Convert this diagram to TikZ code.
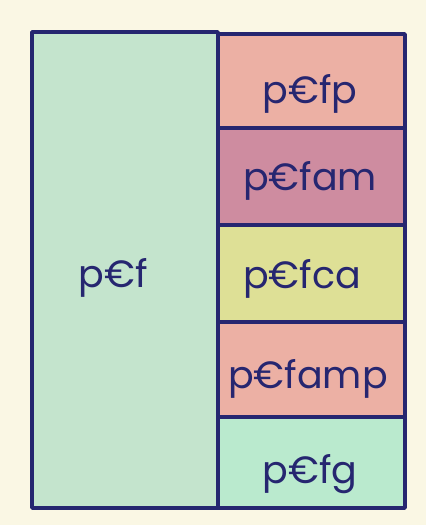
\documentclass[tikz,border=0pt]{standalone}
\usepackage{fontspec}
\setmainfont{Poppins}
\definecolor{paper}{RGB}{250,247,228}
\definecolor{ink}{RGB}{38,38,112}
\definecolor{mint}{RGB}{196,228,205}
\definecolor{salmon}{RGB}{236,176,164}
\definecolor{mauve}{RGB}{206,140,160}
\definecolor{olive}{RGB}{222,224,150}
\definecolor{lgreen}{RGB}{186,234,206}
\tikzset{
  cell/.style={draw=ink, line width=3.6pt, line join=round},
  lbl/.style={text=ink, font=\fontsize{38}{42}\selectfont, inner sep=0pt}
}
\begin{document}
\begin{tikzpicture}[x=1pt,y=-1pt]
\fill[paper] (0,0) rectangle (426,525);
\useasboundingbox (0,0) rectangle (426,525);
% cells
\filldraw[cell, fill=mint]   (32,32)  rectangle (218,508);
\filldraw[cell, fill=salmon] (218,34) rectangle (405,128);
\filldraw[cell, fill=mauve]  (218,128) rectangle (405,225);
\filldraw[cell, fill=olive]  (218,225) rectangle (405,322);
\filldraw[cell, fill=salmon] (218,322) rectangle (405,417);
\filldraw[cell, fill=lgreen] (218,417) rectangle (405,508);
% labels
\node[lbl] (f)    at (113,278) {p€f};
\node[lbl] (fp)   at (310,94)  {p€fp};
\node[lbl] (fam)  at (310,181) {p€fam};
\node[lbl] (fca)  at (302,279) {p€fca};
\node[lbl] (famp) at (308,379) {p€famp};
\node[lbl] (fg)   at (310,474) {p€fg};
\end{tikzpicture}
\end{document}
